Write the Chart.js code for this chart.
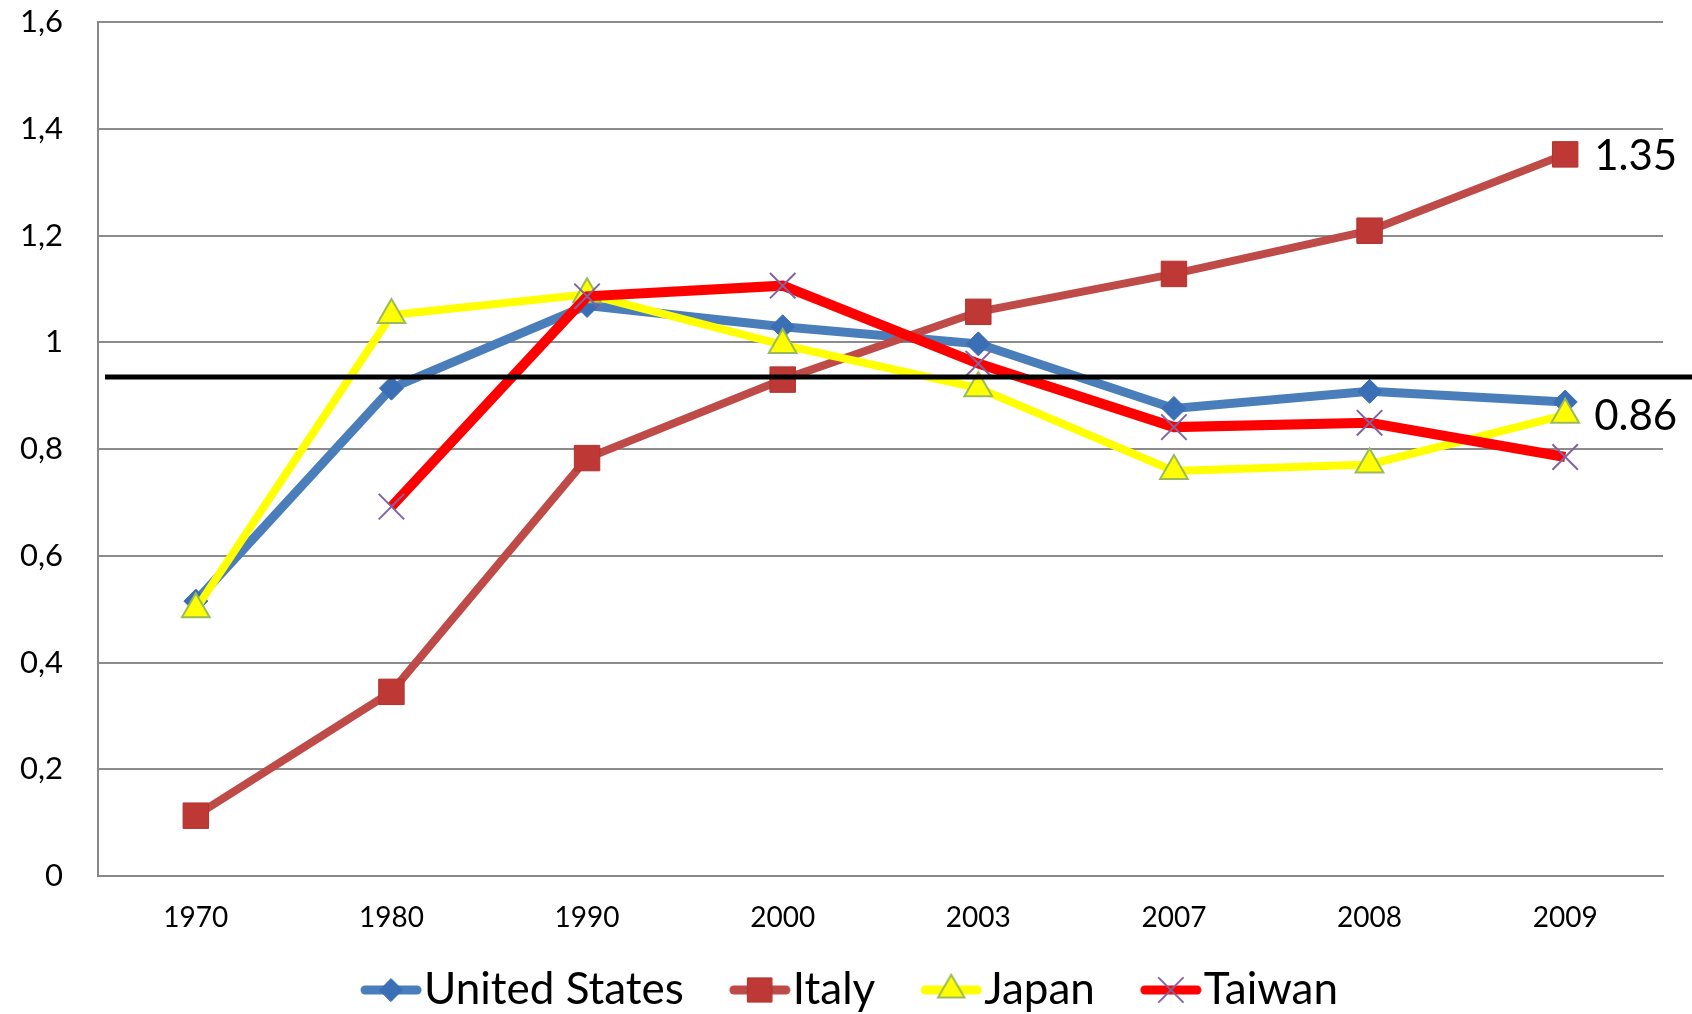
<!DOCTYPE html>
<html>
<head>
<meta charset="utf-8">
<script src="https://cdn.jsdelivr.net/npm/chart.js@4.4.1/dist/chart.umd.min.js"></script>
<style>
html,body{margin:0;padding:0;background:#fff;}
#wrap{width:1692px;height:1014px;}
</style>
</head>
<body>
<div id="wrap"><canvas id="c" width="1692" height="1014"></canvas></div>
<script>
const categories = ['1970','1980','1990','2000','2003','2007','2008','2009'];
const unitedStates = [0.515, 0.914, 1.069, 1.029, 0.997, 0.876, 0.908, 0.888];
const italy        = [0.113, 0.345, 0.783, 0.930, 1.057, 1.128, 1.209, 1.352];
const japan        = [0.500, 1.051, 1.090, 0.995, 0.914, 0.759, 0.771, 0.864];
const taiwan       = [null, 0.692, 1.086, 1.106, 0.960, 0.841, 0.849, 0.785];
const seriesNames  = ['United States', 'Italy', 'Japan', 'Taiwan'];
const referenceLevel = 0.935;
const endLabels = [{series: 1, text: '1.35'}, {series: 2, text: '0.86'}];
const yTicksMin = 0, yTicksMax = 1.6, yTickStep = 0.2;

const FONT = 'Lato';
const LEGEND_SIZE = 44;
const LEG_MARGIN = 55, LEG_W = 62;

const styles = [
  {line:'#4A7EBB', width:9, point:'rectRot', radius:12, fill:'#3A6EB5', border:'#3A6EB5', bw:1},
  {line:'#BE4B48', width:8, point:'rect', radius:18, fill:'#BE3835', border:'#B03430', bw:1},
  {line:'#FFFF00', width:8, point:'triangle', radius:16, fill:'#FFFF00', border:'#9BBB59', bw:2},
  {line:'#FF0000', width:10, point:'crossRot', radius:18, fill:'#8064A2', border:'#8064A2', bw:2}
];

function legendImage(st){
  const m = LEG_MARGIN, W = LEG_W, H = 36;
  const cv = document.createElement('canvas');
  cv.width = m + W; cv.height = H;
  const g = cv.getContext('2d');
  g.strokeStyle = st.line; g.lineWidth = 9; g.lineCap = 'round';
  g.beginPath(); g.moveTo(m + 5, H/2); g.lineTo(m + W - 5, H/2); g.stroke();
  g.fillStyle = st.fill; g.strokeStyle = st.border; g.lineWidth = st.bw;
  Chart.helpers.drawPoint(g, {pointStyle: st.point, radius: st.radius * 0.95, rotation: 0, borderWidth: st.bw}, m + W/2, H/2);
  return cv;
}

const allData = [unitedStates, italy, japan, taiwan];
const datasets = allData.map((d, i) => ({
  label: seriesNames[i],
  data: d,
  borderColor: styles[i].line,
  borderWidth: styles[i].width,
  backgroundColor: styles[i].fill,
  pointStyle: styles[i].point,
  pointRadius: styles[i].radius,
  pointHoverRadius: styles[i].radius,
  pointBackgroundColor: styles[i].fill,
  pointBorderColor: styles[i].border,
  pointBorderWidth: styles[i].bw,
  tension: 0,
  spanGaps: false,
  order: 3 - i,
  clip: false
}));

const extras = {
  id: 'extras',
  afterDatasetsDraw(chart){
    const ctx = chart.ctx;
    const y = chart.scales.y.getPixelForValue(referenceLevel);
    ctx.save();
    ctx.strokeStyle = '#000'; ctx.lineWidth = 5;
    ctx.beginPath(); ctx.moveTo(105, y); ctx.lineTo(chart.width, y); ctx.stroke();
    ctx.fillStyle = '#000';
    ctx.font = '42px ' + FONT;
    ctx.textAlign = 'left'; ctx.textBaseline = 'middle';
    endLabels.forEach(l => {
      const meta = chart.getDatasetMeta(l.series);
      const pt = meta.data[meta.data.length - 1];
      ctx.fillText(l.text, pt.x + 29, pt.y + 2);
    });
    ctx.restore();
  }
};

new Chart(document.getElementById('c'), {
  type: 'line',
  data: { labels: categories, datasets },
  options: {
    responsive: false,
    animation: false,
    devicePixelRatio: 1,
    layout: { padding: { left: 0, right: 29, top: 22, bottom: -8 } },
    plugins: {
      tooltip: { enabled: false },
      title: { display: false },
      legend: {
        position: 'bottom',
        labels: {
          usePointStyle: true,
          pointStyleWidth: LEG_MARGIN + LEG_W - LEGEND_SIZE + 4,
          padding: 10,
          color: '#000',
          font: { family: FONT, size: LEGEND_SIZE },
          sort: (a, b) => a.datasetIndex - b.datasetIndex,
          generateLabels(chart){
            const items = Chart.defaults.plugins.legend.labels.generateLabels(chart);
            items.forEach(it => { it.pointStyle = legendImage(styles[it.datasetIndex]); });
            return items;
          }
        }
      }
    },
    scales: {
      x: {
        offset: true,
        grid: { display: false, drawTicks: false },
        border: { display: true, color: '#888', width: 2 },
        ticks: { color: '#000', font: { family: FONT, size: 28 }, padding: 25, maxRotation: 0 },
        afterFit(s){ s.height = 82; }
      },
      y: {
        min: yTicksMin, max: yTicksMax,
        grid: { color: '#8c8c8c', lineWidth: 2, drawTicks: false },
        border: { display: true, color: '#888', width: 2 },
        ticks: {
          stepSize: yTickStep,
          color: '#000',
          font: { family: FONT, size: 31 },
          padding: 35,
          callback: v => String(Number(v.toFixed(1))).replace('.', ',')
        },
        afterFit(s){ s.width = 98; s.paddingTop = 10; s.paddingBottom = 10; }
      }
    }
  },
  plugins: [extras]
});
</script>
</body>
</html>
